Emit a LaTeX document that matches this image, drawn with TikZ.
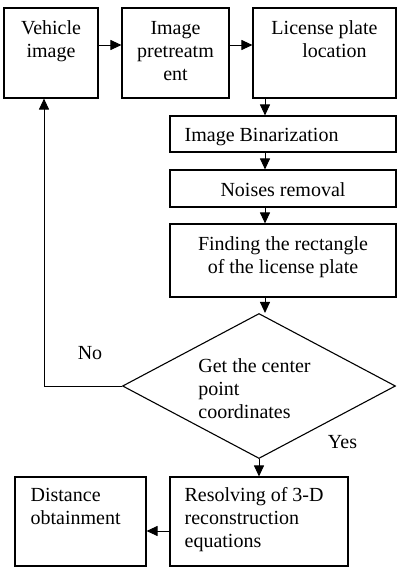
\documentclass[tikz,border=0pt]{standalone}
\usepackage{fontspec}
\setmainfont{Liberation Serif}
\usetikzlibrary{arrows.meta,shapes.geometric}
\usetikzlibrary{positioning}

\tikzset{
  box/.style={rectangle,draw,line width=1.1pt,inner sep=0pt},
  txt/.style={inner sep=0pt},
  arr/.style={line width=1pt,-{Triangle[length=11pt,width=10pt]}},
}

\begin{document}
\begin{tikzpicture}[x=1pt,y=-1pt,font=\fontsize{20}{23}\selectfont]
\useasboundingbox (0,0) rectangle (400,568);
				\path
				(51,53) node(veh) [box,minimum width=94pt,minimum height=90pt,label={[txt,align=center,anchor=north,yshift=-13.3pt]north:Vehicle\\image}] {}
				(175.5,53) node(pre) [box,minimum width=107pt,minimum height=90pt,label={[txt,align=center,anchor=north,yshift=-13.8pt]north:Image\\pretreatm\\ent}] {}
				(324.5,53) node(loc) [box,minimum width=143pt,minimum height=90pt,label={[txt,align=center,anchor=north,yshift=-13.3pt]north:License plate\\\hspace*{1em}location}] {}
				(283,134) node(bin) [box,minimum width=226pt,minimum height=36pt,label={[txt,anchor=west,xshift=15pt,yshift=-3.3pt]west:Image Binarization}] {}
				(283,188.5) node(noise) [box,minimum width=226pt,minimum height=37pt,label={[txt,yshift=-1.4pt]center:Noises removal}] {}
				(283,260.5) node(find) [box,minimum width=226pt,minimum height=73pt,label={[txt,align=center,yshift=3pt]center:Finding the rectangle\\of the license plate}] {}
				(259,386) node(dec) [diamond,draw,line width=1.1pt,inner sep=0pt,minimum width=273pt,minimum height=145pt,label={[txt,align=left,xshift=-4.5pt,yshift=-2.5pt]center:Get the center\\point\\coordinates}] {}
				(259,521.5) node(res) [box,minimum width=178pt,minimum height=89pt,label={[txt,align=left,anchor=north west,xshift=15pt,yshift=-11pt]north west:Resolving of 3-D\\reconstruction\\equations}] {}
				(80.5,521.5) node(dist) [box,minimum width=131pt,minimum height=89pt,label={[txt,align=left,anchor=north west,xshift=16pt,yshift=-12pt]north west:Distance\\obtainment}] {}
				(342.5,442) node(yes) {Yes};
				\coordinate (col) at (265,0);
				\coordinate (back) at (44,0);
				\draw
				([yshift=8pt]veh.east) edge[arr] ([yshift=8pt]pre.west)
				([yshift=8pt]pre.east) edge[arr] ([yshift=8pt]loc.west)
				(loc.south -| col) edge[arr] (bin.north -| col)
				(bin.south -| col) edge[arr] (noise.north -| col)
				(noise.south -| col) edge[arr] (find.north -| col)
				(find.south -| col) edge[arr] (dec.north -| col)
				(dec.south) edge[arr] (res.north)
				([yshift=-9.5pt]res.west) edge[arr] ([yshift=-9.5pt]dist.east);
				\draw[arr] (dec.west) -| node[pos=.205,yshift=33pt](no){No} (veh.south -| back);
			\end{tikzpicture}
\end{document}
